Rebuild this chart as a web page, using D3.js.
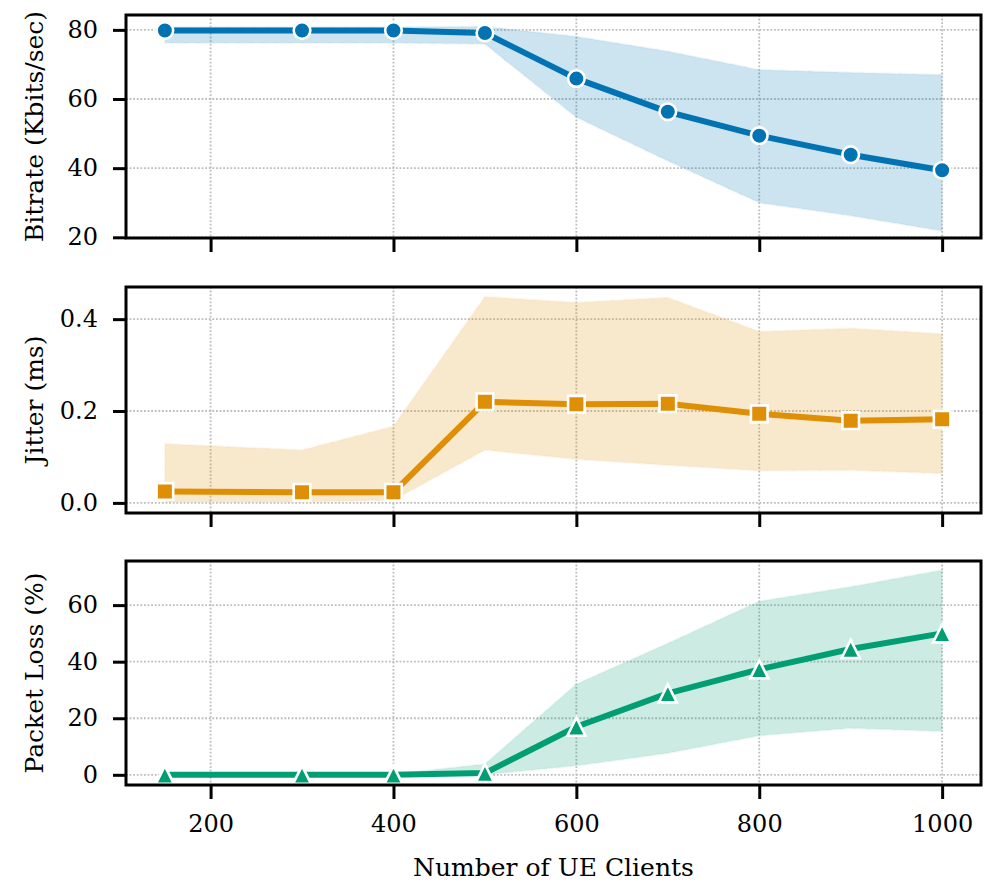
<!DOCTYPE html>
<html>
<head>
<meta charset="utf-8">
<script src="https://cdn.jsdelivr.net/npm/d3@7"></script>
<style>
  body { margin: 0; background: #fff; }
  text { font-family: "DejaVu Serif", serif; fill: #000; }
</style>
</head>
<body>
<svg></svg>
<script>
let width = 997, height = 896;

// Data
const clients = [150, 300, 400, 500, 600, 700, 800, 900, 1000];
const xTicks = [200, 400, 600, 800, 1000];

const bitrateMean = [79.8, 79.8, 79.8, 79.1, 65.9, 56.3, 49.4, 43.9, 39.4];
const bitrateLow  = [76.2, 76.2, 76.2, 75.9, 54.7, 42.1, 30.0, 26.2, 21.8];
const bitrateHigh = [80.8, 80.8, 80.8, 81.0, 78.1, 73.8, 68.5, 67.7, 67.0];
const bitrateTicks = [20, 40, 60, 80];

const jitterMean = [0.025, 0.023, 0.023, 0.220, 0.215, 0.216, 0.194, 0.179, 0.182];
const jitterLow  = [0.002, 0.002, 0.006, 0.115, 0.095, 0.082, 0.070, 0.071, 0.064];
const jitterHigh = [0.129, 0.115, 0.167, 0.449, 0.436, 0.447, 0.373, 0.380, 0.368];
const jitterTicks = [0.0, 0.2, 0.4];

const lossMean = [0, 0, 0, 0.6, 17.0, 28.8, 37.3, 44.5, 50.0];
const lossLow  = [0, 0, 0, 0, 3.2, 7.6, 13.8, 16.5, 15.3];
const lossHigh = [0.3, 0.3, 0.3, 3.8, 32.1, 46.5, 61.4, 66.5, 72.4];
const lossTicks = [0, 20, 40, 60];

let svg = d3.select("svg")
    .attr("width", width)
    .attr("height", height);

svg.append("rect").attr("width", width).attr("height", height).attr("fill", "#fff");

let x = d3.scaleLinear()
    .domain([107.5, 1042.5])
    .range([126, 981]);

// one entry per subplot
let panels = [
    { mean: bitrateMean, low: bitrateLow, high: bitrateHigh, ticks: bitrateTicks,
      domain: [19.8, 84.3], top: 15, bottom: 238, color: "#0173b2", marker: "circle",
      label: "Bitrate (Kbits/sec)", fmt: d3.format("d") },
    { mean: jitterMean, low: jitterLow, high: jitterHigh, ticks: jitterTicks,
      domain: [-0.022, 0.470], top: 287, bottom: 513, color: "#de8f05", marker: "square",
      label: "Jitter (ms)", fmt: d3.format(".1f") },
    { mean: lossMean, low: lossLow, high: lossHigh, ticks: lossTicks,
      domain: [-3.6, 75.6], top: 561, bottom: 785, color: "#029e73", marker: "triangle",
      label: "Packet Loss (%)", fmt: d3.format("d") }
];

panels.forEach((p, i) => {
    let y = d3.scaleLinear().domain(p.domain).range([p.bottom, p.top]);
    let g = svg.append("g");
    let rows = clients.map((c, j) => ({ x: c, m: p.mean[j], lo: p.low[j], hi: p.high[j] }));

    // grid
    g.append("g").selectAll("line")
        .data(xTicks)
        .enter().append("line")
        .attr("x1", d => x(d)).attr("x2", d => x(d))
        .attr("y1", p.top).attr("y2", p.bottom)
        .attr("stroke", "#bdbdbd").attr("stroke-width", 1.8)
        .attr("stroke-dasharray", "1.8,1.8");
    g.append("g").selectAll("line")
        .data(p.ticks)
        .enter().append("line")
        .attr("x1", 126).attr("x2", 981)
        .attr("y1", d => y(d)).attr("y2", d => y(d))
        .attr("stroke", "#bdbdbd").attr("stroke-width", 1.8)
        .attr("stroke-dasharray", "1.8,1.8");

    // error band
    let area = d3.area().x(d => x(d.x)).y0(d => y(d.lo)).y1(d => y(d.hi));
    g.append("path")
        .datum(rows)
        .attr("d", area)
        .attr("fill", p.color)
        .attr("fill-opacity", 0.2)
        .attr("stroke", p.color)
        .attr("stroke-opacity", 0.06)
        .attr("stroke-width", 2);
    g.append("path")
        .datum(rows)
        .attr("d", area)
        .attr("fill", "none")
        .attr("stroke", "#fff")
        .attr("stroke-opacity", 0.45)
        .attr("stroke-width", 0.8)
        .attr("stroke-dasharray", "10,3");

    // mean line
    let line = d3.line().x(d => x(d.x)).y(d => y(d.m));
    g.append("path")
        .datum(rows)
        .attr("d", line)
        .attr("fill", "none")
        .attr("stroke", p.color)
        .attr("stroke-width", 6)
        .attr("stroke-linejoin", "round");

    // markers
    let marks = g.append("g").selectAll("path")
        .data(rows)
        .enter().append("path")
        .attr("transform", d => "translate(" + x(d.x) + "," + y(d.m) + ")")
        .attr("fill", p.color)
        .attr("stroke", "#fff")
        .attr("stroke-width", 2.6);
    if (p.marker == "circle") marks.attr("d", d3.symbol(d3.symbolCircle, Math.PI * 8.3 * 8.3));
    else if (p.marker == "square") marks.attr("d", "M-8.3,-8.3H8.3V8.3H-8.3Z");
    else marks.attr("d", "M0,-9L-9,9L9,9Z");

    // axes
    let yAxis = g.append("g")
        .attr("transform", "translate(126,0)")
        .call(d3.axisLeft(y).tickValues(p.ticks).tickFormat(p.fmt).tickSize(13).tickPadding(15));
    let xAxis = g.append("g")
        .attr("transform", "translate(0," + p.bottom + ")")
        .call(d3.axisBottom(x).tickValues(xTicks).tickSize(14).tickPadding(16)
            .tickFormat(i == 2 ? d3.format("d") : ""));
    [yAxis, xAxis].forEach(a => {
        a.select(".domain").remove();
        a.selectAll(".tick line").attr("stroke", "#000").attr("stroke-width", 3);
        a.selectAll(".tick text").attr("font-size", 24).attr("font-family", "DejaVu Serif");
    });

    // frame
    g.append("rect")
        .attr("x", 126).attr("y", p.top)
        .attr("width", 981 - 126).attr("height", p.bottom - p.top)
        .attr("fill", "none").attr("stroke", "#000").attr("stroke-width", 3);

    // y label
    g.append("text")
        .attr("transform", "translate(43," + (p.top + p.bottom) / 2 + ") rotate(-90)")
        .attr("text-anchor", "middle")
        .attr("font-size", 25)
        .text(p.label);
});

svg.append("text")
    .attr("x", 553.5)
    .attr("y", 876)
    .attr("text-anchor", "middle")
    .attr("font-size", 25)
    .text("Number of UE Clients");
</script>
</body>
</html>
